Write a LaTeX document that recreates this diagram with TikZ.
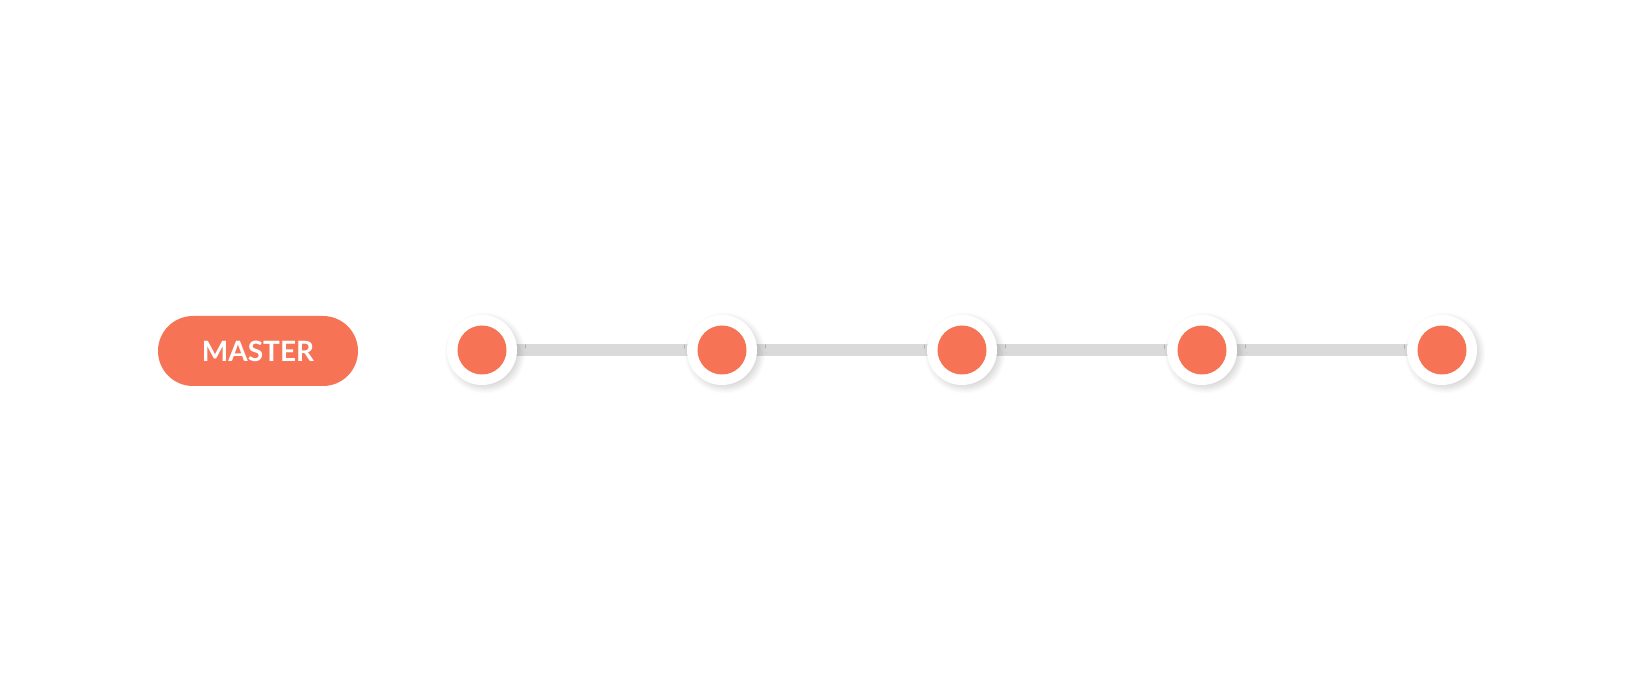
\documentclass[tikz,border=0pt]{standalone}
\usepackage{fontspec}
\setmainfont{Lato}
\usetikzlibrary{shadows.blur}
\definecolor{accent}{HTML}{F67356}
\definecolor{track}{HTML}{DADADA}
\begin{document}
\begin{tikzpicture}[x=1pt,y=-1pt,
  pill/.style={fill=accent,rounded corners=35pt,minimum width=200pt,minimum height=70pt,inner sep=0pt,text=white,font=\bfseries\fontsize{28}{30}\selectfont},
  outer/.style={circle,fill=white,minimum size=70pt,inner sep=0pt,blur shadow={shadow xshift=3pt,shadow yshift=-3pt,shadow blur steps=10,shadow blur radius=6pt,shadow opacity=18}},
  inner/.style={circle,fill=accent,minimum size=49pt,inner sep=0pt},
  link/.style={draw=track,line width=12pt}]
\useasboundingbox (0,0) rectangle (1636,700);
\node[pill] (master) at (258,351) {MASTER};
\foreach \i/\x in {1/482,2/722,3/962,4/1202,5/1442}{
  \coordinate (c\i) at (\x,350);
}
\foreach \a/\b in {1/2,2/3,3/4,4/5}{
  \draw[link] (c\a) -- (c\b);
}
\foreach \i in {1,...,5}{
  \node[outer] (o\i) at (c\i) {};
  \node[inner] (n\i) at (c\i) {};
}
\end{tikzpicture}
\end{document}
